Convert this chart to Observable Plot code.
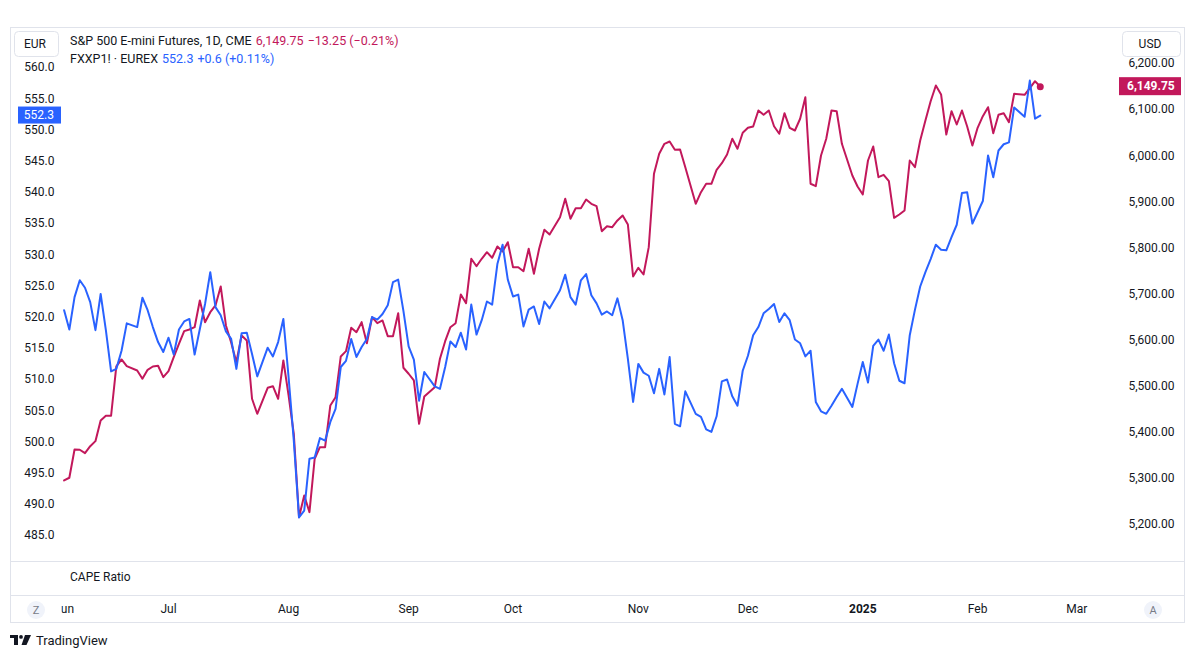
<!DOCTYPE html>
<html>
<head>
<meta charset="utf-8">
<script src="https://cdn.jsdelivr.net/npm/d3@7"></script>
<script src="https://cdn.jsdelivr.net/npm/@observablehq/plot@0.6"></script>
<style>
  body { margin: 0; background: #ffffff; font-family: Roboto, "Liberation Sans", sans-serif; color: #131722; }
  #wrap { position: relative; width: 1195px; height: 658px; overflow: hidden; background: #fff; }
  #chart { position: absolute; left: 0; top: 0; }
  .legend { position: absolute; left: 70px; font-size: 12.5px; line-height: 16px; white-space: nowrap; color: #131722; }
  .legend span { margin-left: 4px; }
  .legend .r { color: #c2185b; }
  .legend .b { color: #2962ff; }
  #footer { position: absolute; left: 10px; top: 631px; height: 18px; display: flex; align-items: center; font-size: 13px; color: #131722; }
  #footer svg { margin-right: 4px; }
</style>
</head>
<body>
<div id="wrap">
  <div id="chart"></div>
  <div class="legend" id="leg1" style="top:33px"></div>
  <div class="legend" id="leg2" style="top:51px"></div>
  <div id="footer">
    <svg width="22" height="10" viewBox="0 0 22 10"><path d="M0 0H8V10H4V3H0Z" fill="#131722"/><circle cx="11" cy="1.9" r="1.9" fill="#131722"/><path d="M15 0H21L16.5 10H11.5Z" fill="#131722"/></svg>
    <span>TradingView</span>
  </div>
</div>
<script>
// ---------------- data (trading-day number counted from 2024-06-03, weekdays) ----------------
const fxxpDay = [0,1,2,3,4,5,6,7,8,9,10,11,12,14,15,16,17,18,19,20,21,22,23,24,25,26,27,28,29,30,31,32,33,34,35,36,37,39,40,41,42,43,44,45,46,47,48,49,50,51,52,53,54,55,56,57,58,59,60,61,62,63,64,65,66,67,68,69,71,72,73,74,75,76,77,78,79,80,81,82,83,84,85,86,87,88,89,90,91,92,93,95,96,97,98,99,100,101,102,103,104,105,106,107,108,109,110,111,112,113,114,115,116,117,118,119,121,122,123,124,125,126,127,128,129,130,131,132,133,134,135,136,137,138,139,140,141,142,143,144,145,146,147,148,149,151,152,153,154,155,156,157,158,159,160,161,162,163,164,165,166,167,168,169,170,171,172,173,174,175,176,177,178,179,180,181,182,184,185,186,187];
const fxxpClose = [521.1,518.0,523.2,525.9,524.7,522.4,517.9,523.7,517.9,511.3,511.7,514.6,519.0,518.4,523.1,521.1,518.4,516.0,514.4,516.7,514.0,518.0,519.3,519.7,514.0,518.1,522.1,527.2,521.6,520.3,517.7,516.5,511.7,517.4,517.5,514.1,510.5,515.1,513.7,516.0,519.7,510.4,500.2,487.9,489.0,497.3,497.5,500.6,500.2,503.2,505.3,512.0,513.0,516.5,513.6,515.2,516.5,520.0,519.6,520.5,521.9,525.6,526.0,521.0,515.3,513.2,506.6,511.2,508.9,508.5,512.0,516.1,515.2,517.5,514.8,522.0,517.2,519.5,522.5,522.0,528.5,531.6,526.0,523.3,523.6,518.5,521.2,521.7,518.9,522.5,521.4,524.3,526.8,523.2,522.0,525.9,526.9,523.5,522.2,520.4,520.9,520.3,523.0,519.5,513.3,506.4,512.5,511.1,510.6,507.8,511.7,507.6,513.6,502.9,502.5,508.1,504.5,504.0,502.0,501.6,504.1,509.7,510.0,507.3,505.8,511.4,513.8,517.1,518.4,520.6,521.3,522.1,519.2,520.6,519.5,516.4,515.8,513.7,514.6,506.4,504.9,504.5,505.8,507.2,508.5,505.6,509.3,512.8,509.5,515.4,516.4,514.6,517.2,512.6,509.8,509.4,517.1,521.2,524.9,527.2,529.3,531.6,530.8,530.7,532.8,534.8,539.9,540.0,535.0,536.8,538.6,545.9,542.4,546.7,547.7,548.0,553.6,552.1,557.9,551.8,552.3];

const esDay = [0,1,2,3,4,5,6,7,8,9,10,11,12,14,15,16,17,18,19,20,21,22,23,24,25,26,27,28,29,30,31,32,33,34,35,36,37,39,40,41,42,43,44,45,46,47,48,49,50,51,52,53,54,55,56,57,58,59,60,61,62,63,64,65,66,67,68,69,71,72,73,74,75,76,77,78,79,80,81,82,83,84,85,86,87,88,89,90,91,92,93,95,96,97,98,99,100,101,102,103,104,105,106,107,108,109,110,111,112,113,114,115,116,117,118,119,121,122,123,124,125,126,127,128,129,130,131,132,133,134,135,136,137,138,139,140,141,142,143,144,145,146,147,148,149,151,152,153,154,155,156,157,158,159,160,161,162,163,164,165,166,167,168,169,170,171,172,173,174,175,176,177,178,179,180,181,182,184,185,186,187];
const esClose = [5295.5,5301.4,5362.8,5362.1,5354.7,5369.9,5380.8,5425.7,5435.9,5435.9,5542.8,5558.0,5543.4,5534.1,5516.1,5535.6,5542.8,5544.3,5519.6,5532.6,5563.0,5592.0,5619.4,5623.0,5628.0,5686.0,5638.9,5660.6,5675.1,5716.3,5631.7,5594.8,5552.1,5610.0,5599.2,5472.7,5440.2,5496.6,5500.0,5472.7,5555.8,5479.9,5396.8,5215.9,5263.0,5226.8,5342.6,5367.8,5367.8,5458.2,5476.2,5564.5,5576.0,5626.7,5617.2,5638.9,5593.3,5649.7,5636.7,5642.6,5608.5,5608.5,5658.4,5540.0,5527.0,5512.4,5418.5,5477.7,5497.9,5559.5,5597.7,5628.0,5636.7,5699.0,5680.1,5776.4,5760.3,5776.4,5790.7,5778.6,5803.1,5792.2,5812.4,5758.2,5758.2,5749.5,5798.1,5743.9,5798.1,5839.3,5829.1,5866.6,5906.5,5863.2,5886.1,5886.1,5905.0,5895.7,5890.5,5836.3,5847.1,5844.9,5859.5,5870.3,5850.8,5738.0,5756.9,5742.3,5801.6,5960.8,6004.1,6025.8,6030.8,6012.8,6013.5,5975.1,5895.7,5920.9,5939.1,5939.1,5969.4,5983.7,6002.6,6036.7,6015.0,6049.7,6060.5,6063.4,6098.1,6088.7,6098.1,6064.0,6047.5,6092.2,6060.5,6054.7,6080.1,6126.9,5939.1,5933.9,6000.5,6036.7,6098.1,6096.5,6025.8,5957.1,5933.2,5915.9,5989.6,6020.0,5953.4,5958.6,5944.7,5865.3,5872.5,5881.2,5989.6,5975.1,6033.0,6076.4,6118.2,6152.3,6132.8,6046.0,6096.5,6067.7,6098.1,6063.4,6022.1,6060.5,6085.7,6105.2,6048.8,6088.7,6092.2,6072.7,6134.3,6132.1,6146.4,6161.6,6149.75];

const eurTicks = [485,490,495,500,505,510,515,520,525,530,535,540,545,550,555,560];
const usdTicks = [5200,5300,5400,5500,5600,5700,5800,5900,6000,6100,6200];
const monthLabels = ["Jun","Jul","Aug","Sep","Oct","Nov","Dec","Feb","Mar"];
const monthDays   = [0,20,43,66,86,110,131,175,194];
const yearLabels = ["2025"];
const yearDays   = [153];

const esName = "S&P 500 E-mini Futures, 1D, CME";
const esQuote = ["6,149.75", "\u221213.25 (\u22120.21%)"];
const fxxpName = "FXXP1! \u00b7 EUREX";
const fxxpQuote = ["552.3", "+0.6 (+0.11%)"];

// ---------------- chart ----------------
const RED = "#c2185b", BLUE = "#2962ff", BORDER = "#e0e3eb", TXT = "#131722";

// right (USD) scale expressed on the left (EUR) scale
const usdToEur = v => 486.76 + (v - 5200) * (560.64 - 486.76) / 1000;
const eurToUsd = e => 5200 + (e - 486.76) * 1000 / (560.64 - 486.76);

const fxxp = fxxpDay.map((d, i) => ({day: d, v: fxxpClose[i]}));
const es = esDay.map((d, i) => ({day: d, v: esClose[i]}));
const esLast = es[es.length - 1];
const fxxpLast = fxxp[fxxp.length - 1];
const monthMap = new Map(monthDays.map((d, i) => [d, monthLabels[i]]));
const yearMap = new Map(yearDays.map((d, i) => [d, yearLabels[i]]));
const usdFmt = d3.format(",.2f");

const plot = Plot.plot({
  width: 1195,
  height: 624,
  marginLeft: 61,
  marginRight: 76,
  marginTop: 28,
  marginBottom: 63,
  style: {fontFamily: "Roboto, 'Liberation Sans', sans-serif", fontSize: "12px", color: TXT, background: "transparent", overflow: "visible"},
  x: {type: "linear", domain: [-0.5, 202.18]},
  y: {domain: [480.83, 566.25]},
  marks: [
    Plot.axisY({anchor: "left", ticks: eurTicks, tickSize: 0, tickPadding: 7, tickFormat: d3.format(".1f"), label: null}),
    Plot.axisY({anchor: "right", ticks: usdTicks.map(usdToEur), tickSize: 0, tickPadding: 9,
      tickFormat: d => usdFmt(Math.round(eurToUsd(d) * 100) / 100), label: null}),
    Plot.axisX({ticks: monthDays, tickSize: 0, tickPadding: 43, tickFormat: d => monthMap.get(d), label: null}),
    Plot.axisX({ticks: yearDays, tickSize: 0, tickPadding: 43, tickFormat: d => yearMap.get(d), fontWeight: "bold", label: null}),
    Plot.line(es, {x: "day", y: d => usdToEur(d.v), stroke: RED, strokeWidth: 2}),
    Plot.line(fxxp, {x: "day", y: "v", stroke: BLUE, strokeWidth: 2}),
    Plot.dot([esLast], {x: "day", y: d => usdToEur(d.v), r: 3.5, fill: RED, stroke: "none"})
  ]
});
document.getElementById("chart").appendChild(plot);

// ---------------- chrome (pane frame, scale boxes, price labels) ----------------
const svg = d3.select(plot);
const ySc = plot.scale("y");
const yPx = v => ySc.apply(v);

const defs = svg.insert("defs", ":first-child");
defs.append("clipPath").attr("id", "timeclip")
  .append("rect").attr("x", 61).attr("y", 0).attr("width", 1058).attr("height", 624);
svg.selectAll('g[aria-label^="x-axis"]').attr("clip-path", "url(#timeclip)");

const back = svg.insert("g", "defs + *");
back.append("rect").attr("x", 10.5).attr("y", 27.5).attr("width", 1174).attr("height", 595)
  .attr("fill", "none").attr("stroke", BORDER);
[561.5, 595.5].forEach(y => back.append("line").attr("x1", 10).attr("x2", 1185).attr("y1", y).attr("y2", y).attr("stroke", BORDER));
back.append("text").attr("x", 70).attr("y", 577).attr("dy", "0.35em").attr("text-anchor", "start")
  .attr("fill", TXT).style("font-size", "12px").text("CAPE Ratio");

const front = svg.append("g");
function scaleBox(x, w, label) {
  front.append("rect").attr("x", x + 0.5).attr("y", 31.5).attr("width", w).attr("height", 25).attr("rx", 4)
    .attr("fill", "#fff").attr("stroke", BORDER);
  front.append("text").attr("x", x + w / 2 - 1).attr("y", 44).attr("dy", "0.35em").attr("text-anchor", "middle")
    .attr("fill", TXT).style("font-size", "12px").text(label);
}
scaleBox(14, 44, "EUR");
scaleBox(1122, 58, "USD");

// last-price labels
const by = yPx(fxxpLast.v);
front.append("rect").attr("x", 18).attr("y", by - 8.5).attr("width", 43).attr("height", 17).attr("fill", BLUE);
front.append("text").attr("x", 54).attr("y", by).attr("dy", "0.35em").attr("text-anchor", "end")
  .attr("fill", "#fff").style("font-size", "12px").text(d3.format(".1f")(fxxpLast.v));
const ry = yPx(usdToEur(esLast.v));
front.append("rect").attr("x", 1119).attr("y", ry - 9).attr("width", 62).attr("height", 18).attr("fill", RED);
front.append("text").attr("x", 1127).attr("y", ry).attr("dy", "0.35em").attr("text-anchor", "start").attr("fill", "#fff")
  .style("font-size", "12px").style("font-weight", "bold").text(usdFmt(esLast.v));

// time-scale buttons
[[36, "Z"], [1153, "A"]].forEach(([cx, t]) => {
  front.append("circle").attr("cx", cx).attr("cy", 610).attr("r", 9).attr("fill", "#f0f3fa");
  front.append("text").attr("x", cx).attr("y", 610).attr("dy", "0.35em").attr("text-anchor", "middle")
    .attr("fill", "#787b86").style("font-size", "11px").text(t);
});

// legend
document.getElementById("leg1").innerHTML =
  `${esName}<span class="r">${esQuote[0]}</span><span class="r">${esQuote[1]}</span>`.replace("S&P", "S&amp;P");
document.getElementById("leg2").innerHTML =
  `${fxxpName}<span class="b">${fxxpQuote[0]}</span><span class="b">${fxxpQuote[1]}</span>`;
</script>
</body>
</html>
